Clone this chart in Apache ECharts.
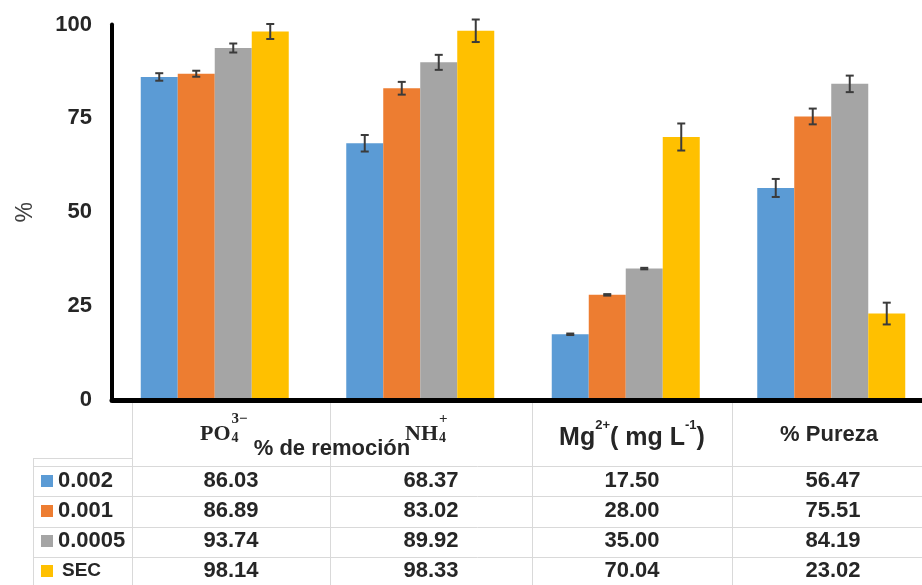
<!DOCTYPE html>
<html><head><meta charset="utf-8">
<script src="https://cdn.jsdelivr.net/npm/echarts@6/dist/echarts.min.js"></script>
<style>html,body{margin:0;padding:0;background:#fff}#c{width:922px;height:585px}</style>
</head><body><div id="c"></div>
<script>
// ---- data ----
const categories = ['PO₄³⁻', 'NH₄⁺', 'Mg²⁺(mg L⁻¹)', '% Pureza'];
const seriesNames = ['0.002', '0.001', '0.0005', 'SEC'];
const v0002  = [86.03, 68.37, 17.50, 56.47];
const v0001  = [86.89, 83.02, 28.00, 75.51];
const v00005 = [93.74, 89.92, 35.00, 84.19];
const vSEC   = [98.14, 98.33, 70.04, 23.02];
const e0002  = [1.0, 2.2, 0.2, 2.4];
const e0001  = [0.8, 1.7, 0.2, 2.1];
const e00005 = [1.2, 2.0, 0.2, 2.2];
const eSEC   = [2.0, 3.0, 3.6, 2.9];
const yTicks = [0, 25, 50, 75, 100];
const groupLabel = '% de remoción';
const yTitle = '%';

// ---- styling / layout ----
const values = [v0002, v0001, v00005, vSEC];
const errors = [e0002, e0001, e00005, eSEC];
const colors = ['#5B9BD5', '#ED7D31', '#A5A5A5', '#FFC000'];
const BAR_W = 37;
const FONT = '"Liberation Sans", Arial, sans-serif';
const TXT = '#262626';

const measureCtx = document.createElement('canvas').getContext('2d');
function textW(str, font) { measureCtx.font = font; return measureCtx.measureText(str).width; }

const chart = echarts.init(document.getElementById('c'), null, {renderer: 'canvas'});

function errRender(k) {
  return function (params, api) {
    const ci = api.value(0), v = api.value(1), e = api.value(2);
    const c = api.coord([ci, v]);
    const x = c[0] + (k - 1.5) * BAR_W;
    const top = api.coord([ci, v + e])[1];
    const bot = api.coord([ci, v - e])[1];
    const cap = 4;
    const st = {stroke: '#3b3b3b', lineWidth: 2};
    return {type: 'group', children: [
      {type: 'line', shape: {x1: x, y1: top, x2: x, y2: bot}, style: st},
      {type: 'line', shape: {x1: x - cap, y1: top, x2: x + cap, y2: top}, style: st},
      {type: 'line', shape: {x1: x - cap, y1: bot, x2: x + cap, y2: bot}, style: st}
    ]};
  };
}

const series = [];
seriesNames.forEach((n, k) => {
  series.push({
    name: n, type: 'bar', data: values[k], barWidth: BAR_W, barGap: '0%',
    itemStyle: {color: colors[k]}, animation: false, z: 2
  });
});
seriesNames.forEach((n, k) => {
  series.push({
    name: n + ' err', type: 'custom', renderItem: errRender(k), z: 5,
    data: values[k].map((v, i) => [i, v, errors[k][i]]), animation: false
  });
});

// ---- table (built from data arrays) ----
const colBounds = [132, 330, 532, 732, 934];
const colCenter = i => (colBounds[i] + colBounds[i + 1]) / 2;
const rowLines = [466, 496, 527, 557];
const rowCenters = [481, 511, 541, 571];
const lineStyle = {stroke: '#d9d9d9', lineWidth: 1};
const graphics = [];
colBounds.slice(0, 4).forEach(x => graphics.push({type: 'line', shape: {x1: x + 0.5, y1: 403, x2: x + 0.5, y2: 585}, style: lineStyle, silent: true}));
graphics.push({type: 'line', shape: {x1: 33.5, y1: 458, x2: 33.5, y2: 585}, style: lineStyle});
graphics.push({type: 'line', shape: {x1: 33, y1: 458.5, x2: 132, y2: 458.5}, style: lineStyle});
rowLines.forEach(y => graphics.push({type: 'line', shape: {x1: 33, y1: y + 0.5, x2: 922, y2: y + 0.5}, style: lineStyle}));

// value cells
values.forEach((arr, k) => {
  arr.forEach((v, i) => {
    graphics.push({type: 'text', x: colCenter(i), y: rowCenters[k], style: {
      text: v.toFixed(2), font: 'bold 22px ' + FONT, fill: TXT, align: 'center', verticalAlign: 'middle'}});
  });
  // legend cell
  graphics.push({type: 'rect', shape: {x: 41, y: rowCenters[k] - 6, width: 12, height: 12}, style: {fill: colors[k]}});
  const isSEC = seriesNames[k] === 'SEC';
  graphics.push({type: 'text', x: isSEC ? 62 : 58, y: rowCenters[k], style: {
    text: seriesNames[k], font: isSEC ? 'bold 19px "Liberation Sans Narrow", ' + FONT : 'bold 22px ' + FONT,
    fill: TXT, align: 'left', verticalAlign: 'middle'}});
});

// header cells
const serif = '"Liberation Serif", "Times New Roman", serif';
function stacked(leftX, base, sup, sub) {
  const bf = 'bold 22px ' + serif;
  const baseW = textW(base, bf);
  graphics.push({type: 'text', x: leftX, y: 434, style: {text: base, font: bf, fill: TXT, align: 'left', verticalAlign: 'middle'}});
  graphics.push({type: 'text', x: leftX + baseW + 1, y: 419, style: {text: sup, font: 'bold 15px ' + serif, fill: TXT, align: 'left', verticalAlign: 'middle'}});
  graphics.push({type: 'text', x: leftX + baseW + 1, y: 438, style: {text: sub, font: 'bold 14px ' + serif, fill: TXT, align: 'left', verticalAlign: 'middle'}});
}
stacked(colCenter(0) - 31, categories[0].slice(0, 2), '3−', '4');
stacked(colCenter(1) - 26, categories[1].slice(0, 2), '+', '4');
graphics.push({type: 'text', x: colBounds[1] + 2, y: 449, style: {
  text: groupLabel, font: 'bold 22px ' + FONT, fill: TXT, align: 'center', verticalAlign: 'middle'}});
graphics.push({type: 'text', x: colCenter(2), y: 435, style: {
  text: '{b|Mg}{s|2+}{b|( mg L}{s|-1}{b|)}',
  align: 'center', verticalAlign: 'middle',
  rich: {
    b: {font: 'bold 25px ' + FONT, fill: TXT, lineHeight: 32, verticalAlign: 'bottom'},
    s: {font: 'bold 13px ' + FONT, fill: TXT, lineHeight: 32, verticalAlign: 'top'}
  }}});
graphics.push({type: 'text', x: colCenter(3) - 4, y: 435, style: {
  text: categories[3], font: 'bold 22px ' + FONT, fill: TXT, align: 'center', verticalAlign: 'middle'}});

chart.setOption({
  animation: false,
  backgroundColor: '#fff',
  grid: {left: 112, top: 24.5, width: 822, height: 375.5, containLabel: false, outerBoundsMode: 'none'},
  xAxis: {
    type: 'category', data: categories, z: 10,
    axisLine: {lineStyle: {color: '#000', width: 5}},
    axisTick: {show: false}, axisLabel: {show: false}, splitLine: {show: false}
  },
  yAxis: {
    type: 'value', min: yTicks[0], max: yTicks[yTicks.length - 1], interval: yTicks[1] - yTicks[0], z: 10,
    name: yTitle, nameLocation: 'middle', nameGap: 75, nameRotate: 90,
    nameTextStyle: {fontFamily: FONT, fontSize: 23, color: '#404040'},
    axisLine: {show: true, lineStyle: {color: '#000', width: 4}},
    axisTick: {show: false}, splitLine: {show: false},
    axisLabel: {fontFamily: FONT, fontSize: 22, fontWeight: 'bold', color: TXT, margin: 20}
  },
  series: series,
  graphic: graphics
});
</script></body></html>
